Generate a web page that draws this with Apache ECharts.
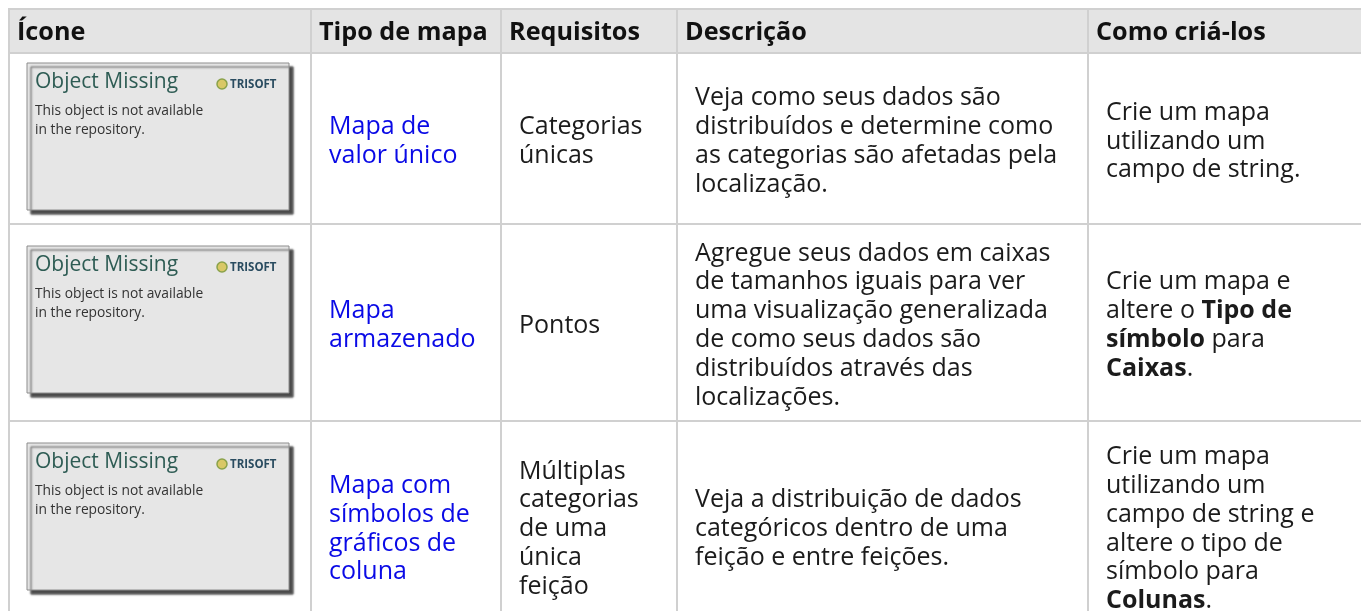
<!DOCTYPE html>
<html>
<head>
<meta charset="utf-8">
<script src="https://cdn.jsdelivr.net/npm/echarts@6/dist/echarts.min.js"></script>
<style>
  html, body { margin: 0; padding: 0; background: #ffffff; }
  #chart { width: 1361px; height: 611px; }
</style>
</head>
<body>
<div id="chart"></div>
<script>
// ---------------- DATA ----------------
const columns = ['Ícone', 'Tipo de mapa', 'Requisitos', 'Descrição', 'Como criá-los'];
const iconTitles = ['Object Missing', 'Object Missing', 'Object Missing'];
const iconNotes = [
  'This object is not available\nin the repository.',
  'This object is not available\nin the repository.',
  'This object is not available\nin the repository.'
];
const iconBrand = ['TRISOFT', 'TRISOFT', 'TRISOFT'];
const mapTypes = [
  'Mapa de\nvalor único',
  'Mapa\narmazenado',
  'Mapa com\nsímbolos de\ngráficos de\ncoluna'
];
const requirements = [
  'Categorias\núnicas',
  'Pontos',
  'Múltiplas\ncategorias\nde uma\núnica\nfeição'
];
const descriptions = [
  'Veja como seus dados são\ndistribuídos e determine como\nas categorias são afetadas pela\nlocalização.',
  'Agregue seus dados em caixas\nde tamanhos iguais para ver\numa visualização generalizada\nde como seus dados são\ndistribuídos através das\nlocalizações.',
  'Veja a distribuição de dados\ncategóricos dentro de uma\nfeição e entre feições.'
];
const howTo = [
  'Crie um mapa\nutilizando um\ncampo de string.',
  'Crie um mapa e\naltere o **Tipo de**\n**símbolo** para\n**Caixas**.',
  'Crie um mapa\nutilizando um\ncampo de string e\naltere o tipo de\nsímbolo para\n**Colunas**.'
];

// ---------------- LAYOUT (axis units, 1 unit = 1 px) ----------------
const colEdges = [0, 302, 492, 668, 1079, 1360];
const rowEdges = [0, 44, 215, 412, 622];

const FONT = '"Open Sans", "Noto Sans", sans-serif';
const BODY_SIZE = 25;
const LINE_H = 28.8;
const BORDER = '#d0d0d0';

// build cell list from the data arrays
const cells = [];
columns.forEach((t, c) => cells.push({ value: [c, 0], kind: 'head', text: t }));
for (let i = 0; i < mapTypes.length; i++) {
  const r = i + 1;
  cells.push({ value: [0, r], kind: 'icon', title: iconTitles[i], note: iconNotes[i], brand: iconBrand[i] });
  cells.push({ value: [1, r], kind: 'link', text: mapTypes[i] });
  cells.push({ value: [2, r], kind: 'text', text: requirements[i] });
  cells.push({ value: [3, r], kind: 'text', text: descriptions[i] });
  cells.push({ value: [4, r], kind: 'text', text: howTo[i] });
}

function toRich(s) {
  return s.replace(/\*\*(.+?)\*\*/g, '{b|$1}');
}

function renderItem(params, api) {
  const cell = cells[params.dataIndex];
  const c = api.value(0), r = api.value(1);
  const p0 = api.coord([colEdges[c], rowEdges[r]]);
  const p1 = api.coord([colEdges[c + 1], rowEdges[r + 1]]);
  const x = p0[0], y = p0[1], w = p1[0] - p0[0], h = p1[1] - p0[1];
  const children = [{
    type: 'rect',
    shape: { x: x, y: y, width: w, height: h },
    style: { fill: r === 0 ? '#e4e4e4' : '#ffffff', stroke: BORDER, lineWidth: 2 }
  }];
  const cy = y + h / 2;
  if (cell.kind === 'head') {
    children.push({
      type: 'text',
      style: {
        x: x + 8, y: cy + 1.5, text: cell.text, fill: '#111111',
        fontSize: 25.2, fontWeight: 'bold', fontFamily: FONT,
        align: 'left', verticalAlign: 'middle'
      }
    });
  } else if (cell.kind === 'icon') {
    const bw = 262, bh = 147;
    const bx = x + 18, by = Math.min(cy - bh / 2 - 2, y + 22);
    children.push({
      type: 'rect',
      shape: { x: bx, y: by, width: bw, height: bh },
      style: {
        fill: '#e6e6e6', stroke: '#8c8c8c', lineWidth: 1,
        shadowColor: 'rgba(0,0,0,0.7)', shadowOffsetX: 4, shadowOffsetY: 4, shadowBlur: 2
      }
    });
    children.push({
      type: 'text',
      style: {
        x: bx + 8, y: by + 19, text: cell.title, fill: '#2e5c54',
        fontSize: 21, fontFamily: FONT, align: 'left', verticalAlign: 'middle'
      }
    });
    children.push({
      type: 'circle',
      shape: { cx: bx + 195, cy: by + 21, r: 5 },
      style: { fill: '#d9c866', stroke: '#8aa24a', lineWidth: 1.5 }
    });
    children.push({
      type: 'text',
      style: {
        x: bx + 203, y: by + 21.5, text: cell.brand, fill: '#2a4c60',
        fontSize: 11.5, fontWeight: 'bold', fontFamily: FONT, align: 'left', verticalAlign: 'middle'
      }
    });
    children.push({
      type: 'text',
      style: {
        x: bx + 8, y: by + 57.5, text: cell.note, fill: '#333333',
        fontSize: 13.8, lineHeight: 19, fontFamily: FONT, align: 'left', verticalAlign: 'middle'
      }
    });
  } else {
    const isLink = cell.kind === 'link';
    const col = isLink ? '#0a0ae6' : '#1b1b1b';
    children.push({
      type: 'text',
      style: {
        x: x + 18, y: cy + 3, text: toRich(cell.text), fill: col,
        fontSize: BODY_SIZE, lineHeight: LINE_H, fontFamily: FONT,
        align: 'left', verticalAlign: 'middle',
        rich: {
          b: { fontSize: BODY_SIZE, lineHeight: LINE_H, fontFamily: FONT, fontWeight: 'bold', fill: col, color: col }
        }
      }
    });
  }
  return { type: 'group', children: children };
}

const chart = echarts.init(document.getElementById('chart'), null, { renderer: 'canvas' });
chart.setOption({
  backgroundColor: '#ffffff',
  animation: false,
  grid: { left: 9, top: 9, right: 0, bottom: 0 },
  xAxis: { type: 'value', min: 0, max: 1352, show: false },
  yAxis: { type: 'value', min: 0, max: 602, inverse: true, show: false },
  series: [{
    type: 'custom',
    renderItem: renderItem,
    clip: false,
    encode: { x: 0, y: 1 },
    data: cells.map(d => d.value)
  }]
});
</script>
</body>
</html>
